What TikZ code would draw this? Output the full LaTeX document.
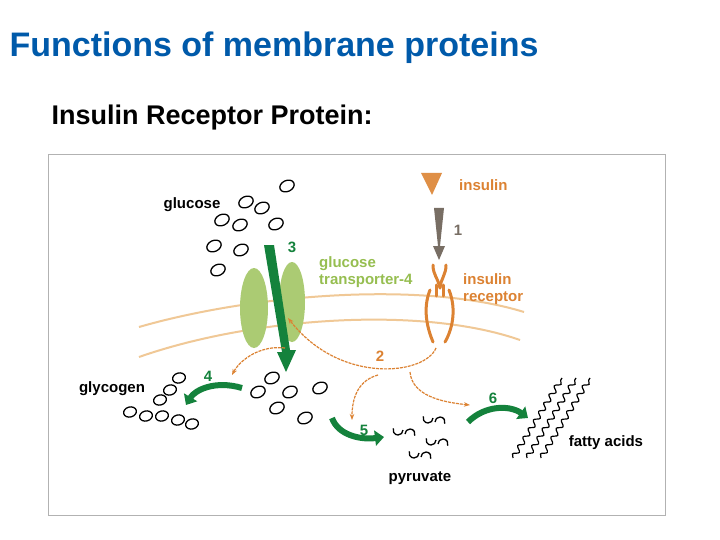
\documentclass[tikz,border=0pt]{standalone}
\usepackage{fontspec}
\setmainfont{Liberation Sans}
\usetikzlibrary{arrows.meta,decorations.pathmorphing,shapes.geometric}
\definecolor{ttl}{RGB}{0,90,170}
\definecolor{org}{RGB}{220,130,50}
\definecolor{lorg}{RGB}{240,200,150}
\definecolor{lgr}{RGB}{150,190,80}
\definecolor{dgr}{RGB}{20,130,60}
\definecolor{gry}{RGB}{120,110,100}
\tikzset{
 glu/.style={draw=black,line width=1.3pt,ellipse,minimum width=15pt,minimum height=11pt,inner sep=0pt,rotate=25},
 lab/.style={font=\bfseries\fontsize{15}{17}\selectfont,inner sep=1pt},
 sig/.style={org,line width=1.2pt,dash pattern=on 3pt off 1pt,-{Stealth[length=6pt]}},
 garr/.style={dgr,line width=6pt,-{Triangle[length=9pt,width=15pt]}},
 mem/.style={lorg,line width=2pt}
}
\begin{document}
\begin{tikzpicture}[x=1pt,y=-1pt]
\useasboundingbox (0,0) rectangle (720,540);
\fill[white] (0,0) rectangle (720,540);
\node[anchor=west,text=ttl,font=\bfseries\fontsize{34}{38}\selectfont] (title) at (6,48) {Functions of membrane proteins};
\node[anchor=west,font=\bfseries\fontsize{27}{30}\selectfont] (sub) at (48,118) {Insulin Receptor Protein:};
\draw[gray!60,line width=1pt] (48,155) rectangle (665,515);
% membrane
\draw[mem] (139,327) .. controls (250,295) and (420,280) .. (524,312);
\draw[mem] (139,357) .. controls (250,318) and (420,305) .. (520,340);
% GLUT4
\fill[lgr!80] (254,308) ellipse (14 and 40);
\fill[lgr!80] (292,302) ellipse (13 and 40);
\node[lab,text=lgr,align=left,anchor=west] (glut) at (318,272) {glucose\\transporter-4};
% arrow 3
\fill[dgr] (264,245) -- (274,245) -- (290,350) -- (296,350) -- (286,372) -- (277,352) -- (282,352) -- cycle;
\node[lab,text=dgr] (n3) at (292,247) {3};
% insulin
\fill[org!90] (421,173) -- (442,173) -- (432,195) -- cycle;
\node[lab,text=org,anchor=west] (ins) at (458,185) {insulin};
\fill[gry] (434,208) -- (444,208) -- (440,246) -- (445,246) -- (439,260) -- (433,246) -- (438,246) -- cycle;
\node[lab,text=gry] (n1) at (458,230) {1};
% receptor
\begin{scope}[org,line width=3pt,line cap=round]
\draw (433,265) .. controls (433,275) and (438,278) .. (440,288);
\draw (446,265) .. controls (446,275) and (441,278) .. (440,288);
\draw (436,285) -- (436,296); \draw (443,285) -- (443,296);
\draw (430,290) .. controls (422,310) and (428,330) .. (433,342);
\draw (449,290) .. controls (457,310) and (452,330) .. (445,342);
\end{scope}
\node[lab,text=org,align=left,anchor=west] (rec) at (462,289) {insulin\\receptor};
% dashed signalling
\coordinate (r) at (436,348);
\draw[sig] (r) .. controls (425,375) and (340,385) .. (288,318);
\draw[sig] (378,375) .. controls (360,380) and (352,395) .. (352,420);
\draw[sig] (410,372) .. controls (412,395) and (440,402) .. (470,405);
\draw[sig] (285,348) .. controls (260,345) and (240,360) .. (232,375);
\node[lab,text=org] (n2) at (380,356) {2};
% green curved arrows
\draw[garr] (242,388) .. controls (215,380) and (195,390) .. (186,405);
\node[lab,text=dgr] (n4) at (208,376) {4};
\draw[garr] (332,418) .. controls (338,435) and (360,440) .. (384,437);
\node[lab,text=dgr] (n5) at (364,430) {5};
\draw[garr] (468,422) .. controls (485,405) and (510,405) .. (528,418);
\node[lab,text=dgr] (n6) at (493,398) {6};
% glucose
\foreach \p [count=\i] in {(287,186),(246,202),(262,208),(222,220),(240,225),(276,224),(214,246),(241,250),(218,270),(272,378),(258,392),(290,392),(320,388),(277,408),(305,418)}
  \node[glu] (g\i) at \p {};
\node[lab] (glucose) at (192,205) {glucose};
% glycogen
\foreach \p [count=\i] in {(179,378),(170,390),(160,400),(130,412),(146,416),(162,416),(178,420),(192,424)}
  \node[glu,rotate=-10,minimum width=13pt,minimum height=10pt] (y\i) at \p {};
\node[lab] (glycogen) at (112,389) {glycogen};
% pyruvate
\foreach \p [count=\i] in {(404,432),(434,420),(437,442),(420,455)}
  \draw[line width=1.3pt] \p ++(-1,-2) arc (0:200:5) \p ++(1,2) arc (180:380:5);
\node[lab] (pyr) at (420,478) {pyruvate};
% fatty acids
\foreach \s in {0,14,28}
  \draw[line width=1.2pt,decorate,decoration={snake,amplitude=2.5pt,segment length=10pt}] (513+\s,458) -- (562+\s,378);
\node[lab] (fa) at (606,443) {fatty acids};
\end{tikzpicture}
\end{document}
